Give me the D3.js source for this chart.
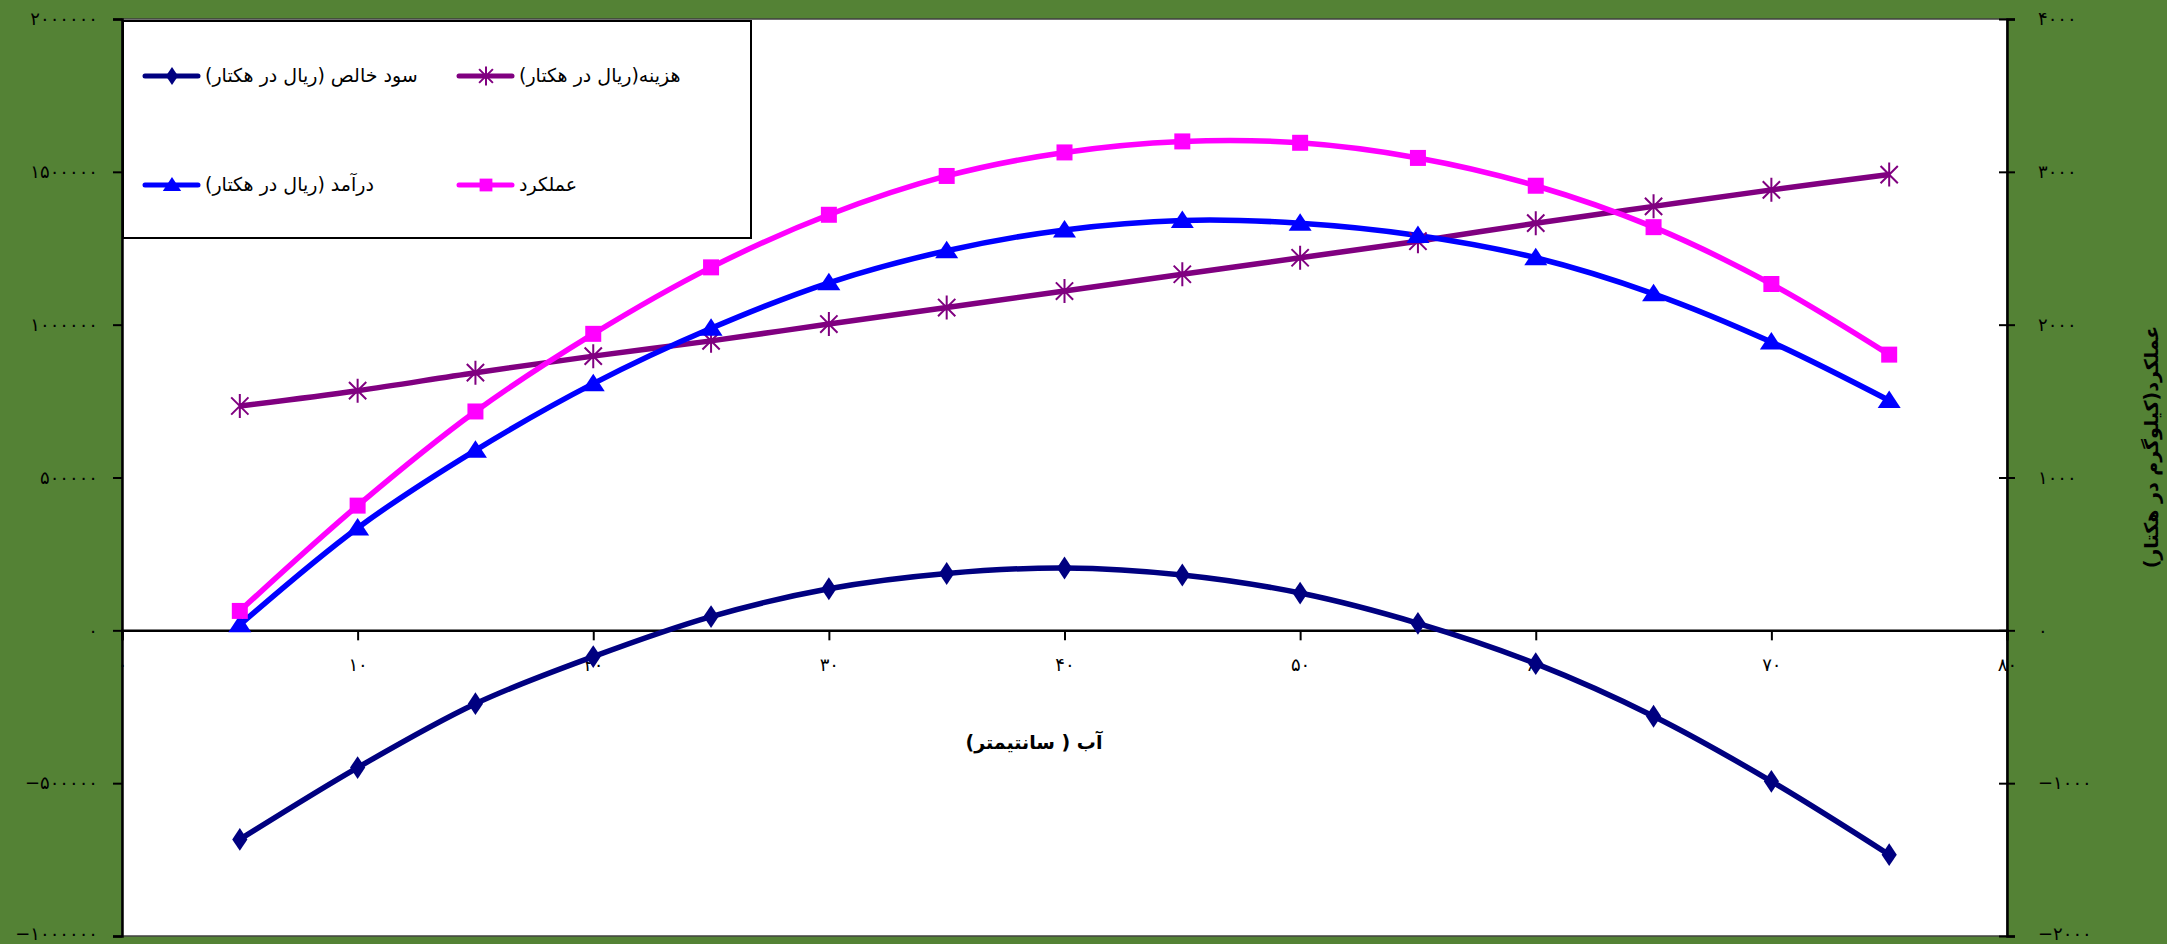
<!DOCTYPE html>
<html>
<head>
<meta charset="utf-8">
<script src="https://cdn.jsdelivr.net/npm/d3@7"></script>
<style>
  html, body { margin: 0; padding: 0; background: #548235; }
  svg { display: block; }
  text { font-family: "DejaVu Sans", "Liberation Sans", sans-serif; }
</style>
</head>
<body>
<svg id="chart" width="2167" height="944"></svg>
<script>
// ---------- data ----------
const waterCm = [5, 10, 15, 20, 25, 30, 35, 40, 45, 50, 55, 60, 65, 70, 75];
const netProfit = [-684000, -449000, -240000, -86000, 45000, 136000, 186000, 204000, 181000, 122000, 23000, -109000, -281000, -494000, -734000];
const cost = [734000, 784000, 843000, 897000, 947000, 1002000, 1056000, 1110000, 1165000, 1219000, 1273000, 1332000, 1387000, 1441000, 1491000];
const revenue = [18000, 335000, 589000, 807000, 988000, 1137000, 1242000, 1310000, 1341000, 1332000, 1292000, 1219000, 1101000, 943000, 752000];
const yieldKg = [127, 816, 1432, 1940, 2375, 2719, 2973, 3127, 3199, 3190, 3091, 2909, 2638, 2266, 1804];

const xTicks = [0, 10, 20, 30, 40, 50, 60, 70, 80];
const leftTicks = [-1000000, -500000, 0, 500000, 1000000, 1500000, 2000000];
const rightTicks = [-2000, -1000, 0, 1000, 2000, 3000, 4000];

const seriesNames = ["سود خالص (ریال در هکتار)", "هزینه(ریال در هکتار)", "درآمد (ریال در هکتار)", "عملکرد"];
const xTitle = "آب ( سانتیمتر)";
const yRightTitle = "عملکرد(کیلوگرم در هکتار)";

// ---------- helpers ----------
const faDigits = "۰۱۲۳۴۵۶۷۸۹";
function toFa(v) {
  const s = String(Math.abs(v)).replace(/[0-9]/g, d => faDigits[+d]);
  return (v < 0 ? "\u2212" : "") + s;
}

// ---------- layout ----------
const svg = d3.select("#chart");
const W = 2167, H = 944;
const plot = { left: 122, right: 2007, top: 19, bottom: 936 };

svg.append("rect").attr("width", W).attr("height", H).attr("fill", "#548235");

const x = d3.scaleLinear().domain([0, 80]).range([plot.left, plot.right]);
const yL = d3.scaleLinear().domain([-1000000, 2000000]).range([plot.bottom, plot.top]);
const yR = d3.scaleLinear().domain([-2000, 4000]).range([plot.bottom, plot.top]);

// plot area
svg.append("rect")
  .attr("x", plot.left).attr("y", plot.top)
  .attr("width", plot.right - plot.left).attr("height", plot.bottom - plot.top)
  .attr("fill", "#ffffff").attr("stroke", "#404040").attr("stroke-width", 1.5);

// left axis
const gL = svg.append("g").attr("transform", `translate(${plot.left},0)`)
  .call(d3.axisLeft(yL).tickValues(leftTicks).tickSize(9).tickPadding(15).tickFormat(toFa));
gL.select(".domain").attr("stroke", "#000").attr("stroke-width", 2.5);
gL.selectAll(".tick line").attr("stroke", "#000").attr("stroke-width", 2);
gL.selectAll(".tick text").attr("font-size", 18).attr("fill", "#000")
  .attr("font-family", "DejaVu Sans").attr("letter-spacing", "5px")
  .attr("dy", d => d === leftTicks[0] ? "0.2em" : "0.32em");

// right axis
const gR = svg.append("g").attr("transform", `translate(${plot.right},0)`)
  .call(d3.axisRight(yR).tickValues(rightTicks).tickSize(8).tickPadding(23).tickFormat(toFa));
gR.select(".domain").attr("stroke", "#000").attr("stroke-width", 2.5);
gR.selectAll(".tick line").attr("stroke", "#000").attr("stroke-width", 2).attr("x1", -8);
gR.selectAll(".tick text").attr("font-size", 18).attr("fill", "#000")
  .attr("font-family", "DejaVu Sans").attr("letter-spacing", "3px")
  .attr("dy", d => d === rightTicks[0] ? "0.2em" : "0.32em");

// x axis at zero
const gX = svg.append("g").attr("transform", `translate(0,${yL(0)})`)
  .call(d3.axisBottom(x).tickValues(xTicks).tickSize(10).tickPadding(18).tickFormat(toFa));
gX.select(".domain").attr("stroke", "#000").attr("stroke-width", 2.5);
gX.selectAll(".tick line").attr("stroke", "#000").attr("stroke-width", 2);
gX.selectAll(".tick text").attr("font-size", 18).attr("fill", "#000")
  .attr("font-family", "DejaVu Sans");

// axis titles
svg.append("text").attr("x", 1034).attr("y", 749)
  .attr("text-anchor", "middle").attr("direction", "rtl")
  .attr("font-size", 19).attr("font-weight", "bold").attr("fill", "#000")
  .text(xTitle);

svg.append("text")
  .attr("transform", "translate(2158,447) rotate(-90)")
  .attr("text-anchor", "middle").attr("direction", "rtl")
  .attr("font-size", 19).attr("font-weight", "bold").attr("fill", "#000")
  .text(yRightTitle);

// ---------- series ----------
const curve = d3.curveCatmullRom.alpha(0.5);

function diamondPath(s) { return `M0,${-s * 1.2}L${s * 0.8},0L0,${s * 1.2}L${-s * 0.8},0Z`; }
function trianglePath(s) { return `M0,${-s}L${s * 1.15},${s * 0.75}L${-s * 1.15},${s * 0.75}Z`; }
function squarePath(s) { return `M${-s},${-s}L${s},${-s}L${s},${s}L${-s},${s}Z`; }
function starPath(s) {
  const d = s * 0.72;
  return `M0,${-s}L0,${s}M${-d},${-d}L${d},${d}M${-d},${d}L${d},${-d}`;
}

const series = [
  { name: seriesNames[0], values: netProfit, scale: yL, color: "#000080", marker: "diamond" },
  { name: seriesNames[1], values: cost, scale: yL, color: "#800080", marker: "star" },
  { name: seriesNames[2], values: revenue, scale: yL, color: "#0000FF", marker: "triangle" },
  { name: seriesNames[3], values: yieldKg, scale: yR, color: "#FF00FF", marker: "square" }
];

function drawMarker(g, type, color, cx, cy, big) {
  const k = big ? 1 : 0.8;
  if (type === "diamond") {
    g.append("path").attr("d", diamondPath(9.5 * k)).attr("transform", `translate(${cx},${cy})`).attr("fill", color);
  } else if (type === "triangle") {
    g.append("path").attr("d", trianglePath(10 * k)).attr("transform", `translate(${cx},${cy})`).attr("fill", color);
  } else if (type === "square") {
    g.append("path").attr("d", squarePath(8 * k)).attr("transform", `translate(${cx},${cy})`).attr("fill", color);
  } else if (type === "star") {
    g.append("path").attr("d", starPath(12 * k)).attr("transform", `translate(${cx},${cy})`)
      .attr("fill", "none").attr("stroke", color).attr("stroke-width", 2);
  }
}

const gS = svg.append("g");
series.forEach(s => {
  const line = d3.line().x((d, i) => x(waterCm[i])).y(d => s.scale(d)).curve(curve);
  gS.append("path").datum(s.values).attr("d", line)
    .attr("fill", "none").attr("stroke", s.color).attr("stroke-width", 5.5)
    .attr("stroke-linejoin", "round");
});
series.forEach(s => {
  const g = gS.append("g");
  s.values.forEach((v, i) => drawMarker(g, s.marker, s.color, x(waterCm[i]), s.scale(v), true));
});

// ---------- legend ----------
const leg = svg.append("g");
leg.append("rect").attr("x", 123).attr("y", 21).attr("width", 628).attr("height", 217)
  .attr("fill", "#fff").attr("stroke", "#000").attr("stroke-width", 2);
const legPos = [
  { lx: 145, ly: 76 }, { lx: 459, ly: 76 },
  { lx: 145, ly: 185 }, { lx: 459, ly: 185 }
];
series.forEach((s, i) => {
  const p = legPos[i];
  leg.append("line").attr("x1", p.lx).attr("x2", p.lx + 53).attr("y1", p.ly).attr("y2", p.ly)
    .attr("stroke", s.color).attr("stroke-width", 5).attr("stroke-linecap", "round");
  drawMarker(leg, s.marker, s.color, p.lx + 27, p.ly, false);
  leg.append("text").attr("x", p.lx + 60).attr("y", p.ly + 6)
    .attr("direction", "rtl").attr("text-anchor", "end")
    .attr("font-size", 19).attr("fill", "#000")
    .text(s.name);
});
</script>
</body>
</html>
